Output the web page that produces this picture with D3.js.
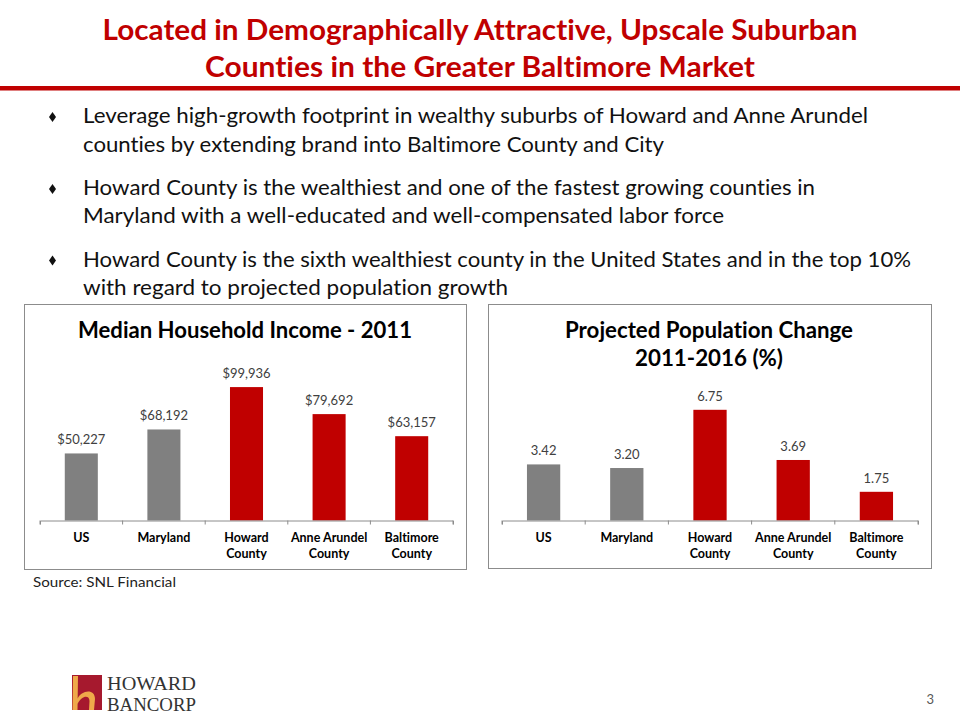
<!DOCTYPE html>
<html>
<head>
<meta charset="utf-8">
<script src="https://cdn.jsdelivr.net/npm/d3@7"></script>
<style>
  html, body { margin: 0; padding: 0; background: #fff; }
  svg { display: block; }
  text { font-family: Lato, "Open Sans", sans-serif; font-variant-ligatures: none; font-feature-settings: "liga" 0, "clig" 0; }
</style>
</head>
<body>
<svg id="slide" width="960" height="720"></svg>
<script>
// ---------- DATA ----------
const titleLines = [
  "Located in Demographically Attractive, Upscale Suburban",
  "Counties in the Greater Baltimore Market"
];
const bullets = [
  ["Leverage high-growth footprint in wealthy suburbs of Howard and Anne Arundel",
   "counties by extending brand into Baltimore County and City"],
  ["Howard County is the wealthiest and one of the fastest growing counties in",
   "Maryland with a well-educated and well-compensated labor force"],
  ["Howard County is the sixth wealthiest county in the United States and in the top 10%",
   "with regard to projected population growth"]
];
const categories = ["US", "Maryland", "Howard County", "Anne Arundel County", "Baltimore County"];
const categoryLabelLines = [["US"], ["Maryland"], ["Howard", "County"], ["Anne Arundel", "County"], ["Baltimore", "County"]];
const groups = ["Benchmark", "Benchmark", "Market", "Market", "Market"];
const incomeValues = [50227, 68192, 99936, 79692, 63157];
const popChangeValues = [3.42, 3.20, 6.75, 3.69, 1.75];
const incomeTitle = ["Median Household Income - 2011"];
const popTitle = ["Projected Population Change", "2011-2016 (%)"];
const sourceText = "Source: SNL Financial";
const logoLines = ["HOWARD", "BANCORP"];
const pageNumber = "3";

// ---------- STYLE ----------
const RED = "#C00000";
const color = d3.scaleOrdinal().domain(["Benchmark", "Market"]).range(["#808080", "#C00000"]);

const svg = d3.select("#slide");

// Title
const titleWidths = [755, 550];
const titleBase = [39.5, 76.5];
titleLines.forEach((t, i) => {
  svg.append("text")
    .attr("x", 480).attr("y", titleBase[i])
    .attr("text-anchor", "middle")
    .attr("font-size", 28).attr("font-weight", 700)
    .attr("fill", RED)
    .attr("textLength", titleWidths[i]).attr("lengthAdjust", "spacingAndGlyphs")
    .text(t);
});
svg.append("rect").attr("x", 0).attr("y", 86).attr("width", 960).attr("height", 4.5).attr("fill", RED);

// Bullets
const bulletBase = [[123, 151.5], [195, 223], [266.5, 295]];
const bulletWidths = [[785, 581], [732, 641], [828, 425]];
bullets.forEach((b, i) => {
  const by = bulletBase[i][0] - 6;
  svg.append("path")
    .attr("d", `M52.5,${by - 5} L56,${by} L52.5,${by + 5} L49,${by} Z`)
    .attr("fill", "#111");
  b.forEach((line, j) => {
    svg.append("text")
      .attr("x", 83).attr("y", bulletBase[i][j])
      .attr("font-size", 22).attr("fill", "#111")
      .attr("textLength", bulletWidths[i][j]).attr("lengthAdjust", "spacingAndGlyphs")
      .text(line);
  });
});

// Chart builder
function barChart(opts) {
  const g = svg.append("g");
  g.append("rect")
    .attr("x", opts.box[0] + 0.5).attr("y", opts.box[1] + 0.5)
    .attr("width", opts.box[2]).attr("height", opts.box[3])
    .attr("fill", "#fff").attr("stroke", "#8c8c8c").attr("stroke-width", 1);

  opts.title.forEach((t, i) => {
    g.append("text")
      .attr("x", opts.titleX).attr("y", opts.titleBase[i])
      .attr("text-anchor", "middle")
      .attr("font-size", 22).attr("font-weight", 700).attr("fill", "#000")
      .attr("textLength", opts.titleWidths[i]).attr("lengthAdjust", "spacingAndGlyphs")
      .text(t);
  });

  const x = d3.scaleBand().domain(categories).range(opts.xRange)
    .paddingInner(0.6).paddingOuter(0.3);
  const y = d3.scaleLinear().domain(opts.yDomain).range([520.5, opts.yTop]);

  g.selectAll("rect.bar").data(opts.values).join("rect")
    .attr("class", "bar")
    .attr("x", (d, i) => x(categories[i]))
    .attr("y", d => y(d))
    .attr("width", x.bandwidth())
    .attr("height", d => y(0) - y(d))
    .attr("fill", (d, i) => color(groups[i]));

  g.selectAll("text.val").data(opts.values).join("text")
    .attr("class", "val")
    .attr("x", (d, i) => x(categories[i]) + x.bandwidth() / 2)
    .attr("y", d => y(d) - 9)
    .attr("text-anchor", "middle")
    .attr("font-size", 13).attr("fill", "#404040")
    .text(opts.fmt);

  // axis line with ticks at band boundaries
  const axis = d3.axisBottom(x).tickSize(0).tickSizeOuter(4).tickFormat("");
  const ax = g.append("g").attr("transform", `translate(0,${y(0)})`).call(axis);
  ax.select(".domain").attr("stroke", "#8c8c8c");
  const step = x.step();
  const bounds = d3.range(categories.length + 1).map(i => x.range()[0] + i * step);
  ax.selectAll("line.bound").data(bounds).join("line")
    .attr("class", "bound")
    .attr("x1", d => d).attr("x2", d => d).attr("y1", 0).attr("y2", 4)
    .attr("stroke", "#8c8c8c");

  const labels = g.selectAll("text.cat").data(categoryLabelLines).join("text")
    .attr("class", "cat")
    .attr("text-anchor", "middle")
    .attr("font-size", 12.5).attr("font-weight", 700).attr("fill", "#000");
  labels.each(function (lines, i) {
    const cx = x(categories[i]) + x.bandwidth() / 2;
    d3.select(this).selectAll("tspan").data(lines).join("tspan")
      .attr("x", cx)
      .attr("y", (d, j) => 542 + j * 16)
      .text(d => d);
  });
}

barChart({
  box: [24, 304, 442, 265],
  title: incomeTitle, titleX: 245, titleBase: [338], titleWidths: [334],
  xRange: [40, 453],
  values: incomeValues, yDomain: [0, 120000], yTop: 360.3,
  fmt: d => "$" + d3.format(",")(d)
});

barChart({
  box: [488, 304, 443, 264],
  title: popTitle, titleX: 709, titleBase: [338, 366], titleWidths: [288, 148],
  xRange: [502, 918],
  values: popChangeValues, yDomain: [0, 8], yTop: 389.3,
  fmt: d => d3.format(".2f")(d)
});

// Source
svg.append("text").attr("x", 33).attr("y", 587)
  .attr("font-size", 13).attr("fill", "#222")
  .attr("textLength", 143).attr("lengthAdjust", "spacingAndGlyphs")
  .text(sourceText);

// Logo
const logo = svg.append("g");
logo.append("rect").attr("x", 72).attr("y", 675).attr("width", 30).attr("height", 35).attr("fill", "#A6192E");
logo.append("path")
  .attr("d", "M73,676 L78,676 L77.5,710 L72.5,710 Z M77.5,699 C81,690 95,688 95,699 L94,710 L89,710 L89.5,701 C89.5,695 82,695 77.5,704 Z")
  .attr("fill", "#EFAA4A");
logoLines.forEach((t, i) => {
  logo.append("text")
    .attr("x", 107).attr("y", 690 + i * 21)
    .attr("font-size", 19).attr("fill", "#333")
    .attr("textLength", 89).attr("lengthAdjust", "spacingAndGlyphs")
    .style("font-family", "'Liberation Serif', 'DejaVu Serif', serif")
    .text(t);
});

// Page number
svg.append("text").attr("x", 934).attr("y", 704)
  .attr("text-anchor", "end").attr("font-size", 13).attr("fill", "#595959")
  .text(pageNumber);
</script>
</body>
</html>
